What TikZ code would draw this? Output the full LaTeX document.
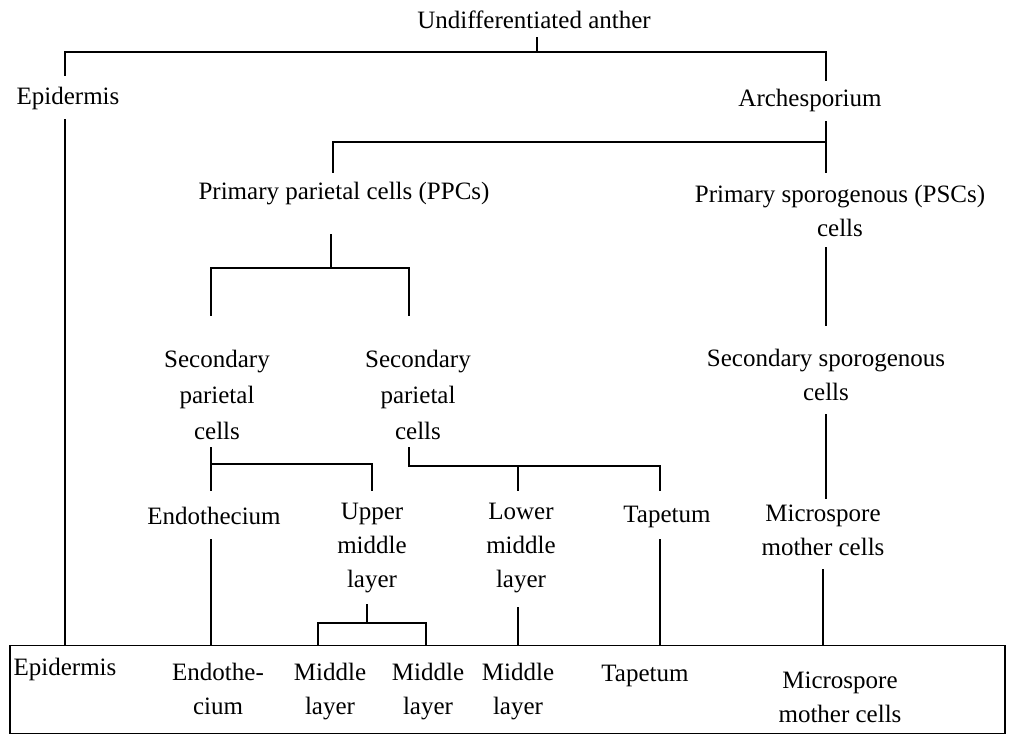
\documentclass[tikz,border=0pt]{standalone}
\usepackage{fontspec}
\setmainfont{Liberation Serif}
\begin{document}
\begin{tikzpicture}[x=0.5pt,y=-0.5pt,
  lbl/.style={inner sep=0pt,align=center,font=\fontsize{12.5}{17}\selectfont},
  lbl3/.style={lbl,font=\fontsize{12.5}{18}\selectfont},
  conn/.style={line width=0.9pt,line cap=rect}]
\useasboundingbox (0,0) rectangle (1009,738);
% labels
\node[lbl] (ua) at (534,20) {Undifferentiated anther};
\node[lbl] (ep1) at (68,98) {Epidermis};
\node[lbl] (arch) at (810,100) {Archesporium};
\node[lbl] (ppc) at (344,194) {Primary parietal cells (PPCs)};
\node[lbl] (psc) at (840,211) {Primary sporogenous (PSCs)\\cells};
\node[lbl3] (spc1) at (217,395) {Secondary\\parietal\\cells};
\node[lbl3] (spc2) at (418,395) {Secondary\\parietal\\cells};
\node[lbl] (ssc) at (826,375) {Secondary sporogenous\\cells};
\node[lbl] (endo) at (214,516) {Endothecium};
\node[lbl] (umid) at (372,548) {Upper\\middle\\layer};
\node[lbl] (lmid) at (521,548) {Lower\\middle\\layer};
\node[lbl] (tap) at (667,517) {Tapetum};
\node[lbl] (msc) at (823,530) {Microspore\\mother cells};
% bottom box
\node[draw,line width=0.9pt,minimum width=497.5pt,minimum height=44pt,inner sep=0pt] (box) at (507.5,689.5) {};
\node[lbl] (ep2) at (65,669) {Epidermis};
\node[lbl] (en2) at (218,689) {Endothe-\\cium};
\node[lbl] (m1) at (330,692) {Middle\\layer};
\node[lbl] (m2) at (428,692) {Middle\\layer};
\node[lbl] (m3) at (518,692) {Middle\\layer};
\node[lbl] (tp2) at (645,676) {Tapetum};
\node[lbl] (ms2) at (840,697) {Microspore\\mother cells};
% coordinates
\coordinate (a0) at (537,38); \coordinate (a1) at (537,52);
\coordinate (a2) at (65,75); \coordinate (a3) at (65,52);
\coordinate (a4) at (826,52); \coordinate (a5) at (826,80);
\coordinate (e0) at (65,120); \coordinate (e1) at (65,645);
\coordinate (b0) at (826,122); \coordinate (b1) at (826,172);
\coordinate (b2) at (333,172); \coordinate (b3) at (333,142); \coordinate (b4) at (826,142);
\coordinate (c0) at (331,235); \coordinate (c1) at (331,268);
\coordinate (c2) at (211,315); \coordinate (c3) at (211,268);
\coordinate (c4) at (409,268); \coordinate (c5) at (409,315);
\coordinate (d0) at (826,248); \coordinate (d1) at (826,325);
\coordinate (d2) at (826,415); \coordinate (d3) at (826,498);
\coordinate (f0) at (211,448); \coordinate (f1) at (211,490);
\coordinate (f2) at (211,464); \coordinate (f3) at (372,464); \coordinate (f4) at (372,490);
\coordinate (g0) at (409,448); \coordinate (g1) at (409,466);
\coordinate (g2) at (660,466); \coordinate (g3) at (660,490);
\coordinate (g4) at (518,466); \coordinate (g5) at (518,490);
\coordinate (h0) at (211,540); \coordinate (h1) at (211,645);
\coordinate (k0) at (367,605); \coordinate (k1) at (367,623);
\coordinate (k2) at (318,645); \coordinate (k3) at (318,623);
\coordinate (k4) at (426,623); \coordinate (k5) at (426,645);
\coordinate (l0) at (518,608); \coordinate (l1) at (518,645);
\coordinate (t0) at (660,540); \coordinate (t1) at (660,645);
\coordinate (m0) at (823,570); \coordinate (mm1) at (823,645);
% connectors
\draw[conn] (a0) -- (a1);
\draw[conn] (a2) -- (a3) -- (a4) -- (a5);
\draw[conn] (e0) -- (e1);
\draw[conn] (b0) -- (b1);
\draw[conn] (b2) -- (b3) -- (b4);
\draw[conn] (c0) -- (c1);
\draw[conn] (c2) -- (c3) -- (c4) -- (c5);
\draw[conn] (d0) -- (d1);
\draw[conn] (d2) -- (d3);
\draw[conn] (f0) -- (f1);
\draw[conn] (f2) -- (f3) -- (f4);
\draw[conn] (g0) -- (g1) -- (g2) -- (g3);
\draw[conn] (g4) -- (g5);
\draw[conn] (h0) -- (h1);
\draw[conn] (k0) -- (k1);
\draw[conn] (k2) -- (k3) -- (k4) -- (k5);
\draw[conn] (l0) -- (l1);
\draw[conn] (t0) -- (t1);
\draw[conn] (m0) -- (mm1);
\end{tikzpicture}
\end{document}
